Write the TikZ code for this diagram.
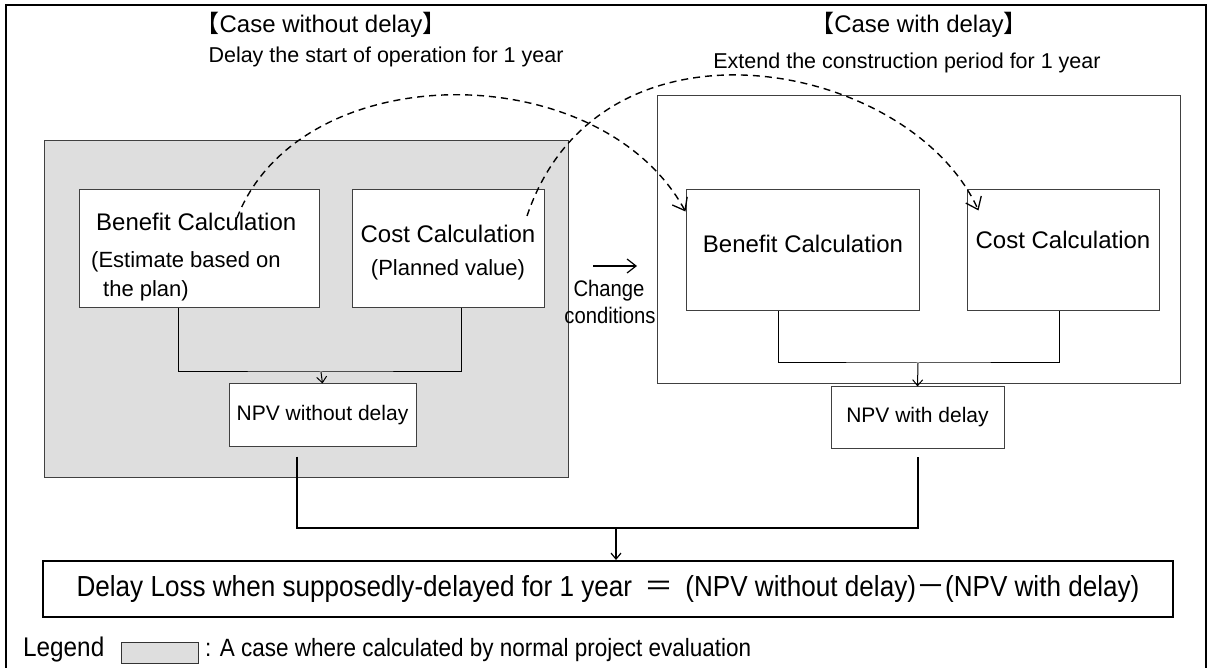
\documentclass[tikz,border=0pt]{standalone}
\usepackage{fontspec}
\setmainfont{Liberation Sans}
\newfontfamily\cjk{Noto Sans CJK JP}
\newfontfamily\narrow{Liberation Sans}[FakeStretch=0.9]
\usetikzlibrary{arrows.meta}
\tikzset{>={Straight Barb[length=6pt,width=10pt]}}
\newcommand{\fsz}[1]{\fontsize{#1}{#1}\selectfont}
\tikzset{
    calcbox/.style={draw=black!75, fill=white, line width=1pt, inner sep=0pt},
    txt/.style={inner sep=0pt, font=\fsz{#1}},
    delayarc/.style={dashed, dash pattern=on 7pt off 5pt, line width=1.4pt, -{Straight Barb[length=11pt,width=17pt,line width=1.3pt]}},
}

\begin{document}
\begin{tikzpicture}[x=1pt, y=-1pt]
    \useasboundingbox (0, 0) rectangle (1208, 668);
    % outer frame, open at the bottom
    \draw[line width=2.5pt](6, 668)--(6, 5)--(1206, 5)--(1206, 668);
    % the two cases
    \node[draw=black!75, fill=black!13, line width=1pt, minimum width=524pt, minimum height=336pt](nodelay) at (306, 309){};
    \node[draw=black!75, line width=1pt, minimum width=523pt, minimum height=288pt](withdelay) at (918.5, 240){};
    \node[txt=24](title1) at (321, 25){{\cjk 【}Case without delay{\cjk 】}};
    \node[txt=21.5](hint1) at (386, 57){Delay the start of operation for 1 year};
    \node[txt=24](title2) at (919, 25){{\cjk 【}Case with delay{\cjk 】}};
    \node[txt=21.5](hint2) at (907, 63){Extend the construction period for 1 year};
    % calculation boxes
    \node[calcbox, minimum width=240pt, minimum height=118pt](ben1) at (199, 249){};
    \node[calcbox, minimum width=192pt, minimum height=118pt](cost1) at (448, 249){};
    \node[calcbox, minimum width=233pt, minimum height=121pt](ben2) at (802.5, 250.5){};
    \node[calcbox, minimum width=192pt, minimum height=121pt](cost2) at (1063, 250.5){};
    \node[txt=24, anchor=west](ben1a) at (96, 222){Benefit Calculation};
    \node[txt=22, anchor=west](ben1b) at (91, 262){(Estimate based on};
    \node[txt=22, anchor=west](ben1c) at (103, 291){the plan)};
    \node[txt=24](cost1a) at (448, 234){Cost Calculation};
    \node[txt=22](cost1b) at (448, 270){(Planned value)};
    \node[txt=24](ben2a) at (803, 244){Benefit Calculation};
    \node[txt=24](cost2a) at (1063, 240){Cost Calculation};
    % npv boxes
    \node[calcbox, minimum width=187pt, minimum height=62pt, font=\fsz{21}](npv1) at (322.5, 415){NPV without delay};
    \node[calcbox, minimum width=173pt, minimum height=61pt, font=\fsz{21}](npv2) at (917.5, 417.5){NPV with delay};
    \coordinate(join1) at (321, 372);
    \coordinate(join2) at (918, 363);
    \draw[line width=1pt]([xshift=-21pt]ben1.south)|-(join1)-|([xshift=13pt]cost1.south);
    \draw[line width=1pt, ->](join1)--(npv1.north);
    \draw[line width=1pt]([xshift=-24.5pt]ben2.south)|-(join2)-|([xshift=-4pt]cost2.south);
    \draw[line width=1pt, ->](join2)--(npv2.north);
    % change of conditions
    \coordinate(chgs) at (593, 266);
    \coordinate(chge) at (637, 266);
    \draw[line width=1.2pt, -{Straight Barb[length=9pt,width=14pt]}](chgs)--(chge);
    \node[txt=22.5, font=\narrow\fsz{22.5}](chg1) at (609, 291){Change};
    \node[txt=22.5, font=\narrow\fsz{22.5}](chg2) at (610, 315){conditions};
    % dashed arcs
    \coordinate(arc1s) at (237, 218);
    \coordinate(arc2s) at (527, 216);
    \draw[delayarc](arc1s) .. controls (300, 55) and (600, 55) .. ([yshift=-22pt]ben2.north west);
    \draw[delayarc](arc2s) .. controls (600, 0) and (910, 60) .. ([xshift=12pt, yshift=-21pt]cost2.north west);
    % delay loss
    \node[draw, line width=2pt, fill=white, minimum width=1130pt, minimum height=56pt, font=\narrow\fsz{29}](loss) at (608, 589){Delay Loss when supposedly-delayed for 1 year \,{\cjk ＝}\, (NPV without delay){\cjk －}(NPV with delay)};
    \coordinate(join3) at (616, 528);
    \draw[line width=1.8pt]([xshift=-25.5pt, yshift=-10pt]npv1.south)|-(join3)-|([xshift=0.5pt, yshift=-8pt]npv2.south);
    \draw[line width=1.2pt, ->](join3)--(join3 |- loss.north);
    % legend
    \node[txt=27, font=\narrow\fsz{27}, anchor=west](leg) at (23, 650){Legend};
    \node[draw=black!80, fill=black!13, line width=1pt, minimum width=77pt, minimum height=21pt](legbox) at (159.5, 652.5){};
    \node[txt=25, font=\narrow\fsz{25}, anchor=west](legtxt) at (205, 650){: A case where calculated by normal project evaluation};
\end{tikzpicture}
\end{document}
